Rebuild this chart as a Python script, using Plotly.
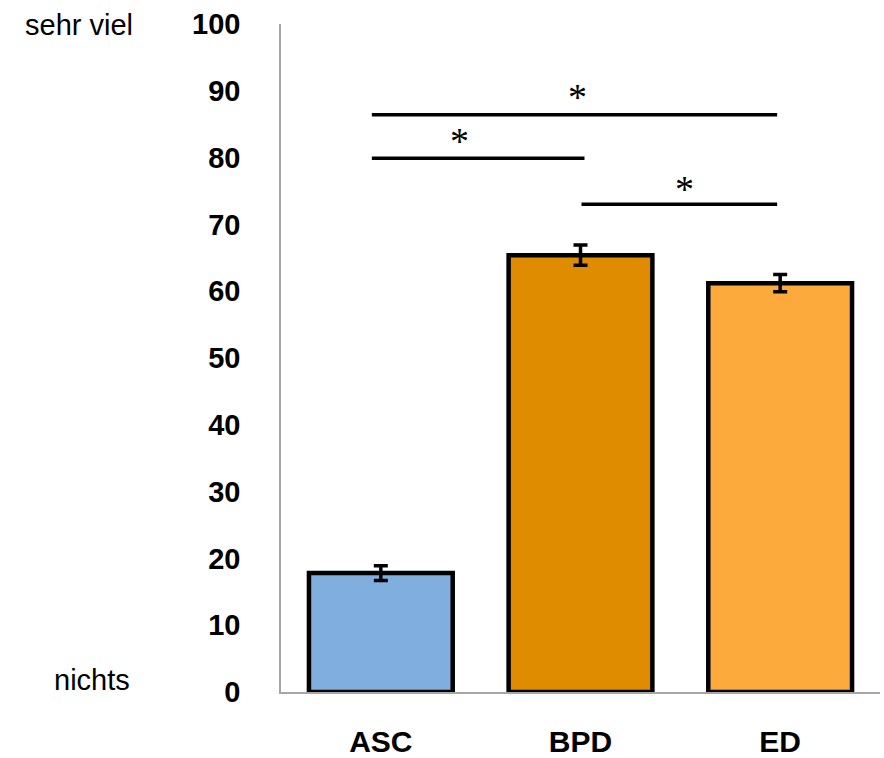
import plotly.graph_objects as go

categories = ["ASC", "BPD", "ED"]
means = [17.8, 65.4, 61.2]
errors = [1.1, 1.5, 1.3]
bar_colors = ["#7FAEDF", "#E08C00", "#FDAA3C"]
y_ticks = [0, 10, 20, 30, 40, 50, 60, 70, 80, 90, 100]

# significance comparisons: (x start, x end, y level, asterisk x, asterisk y)
sig_x0 = [-0.045, -0.045, 1.005]
sig_x1 = [1.985, 1.02, 1.985]
sig_y = [86.4, 79.9, 73.0]
star_x = [0.985, 0.395, 1.52]
star_y = [89.0, 82.5, 75.3]

x_pos = list(range(len(categories)))

fig = go.Figure()
fig.add_trace(go.Bar(
    x=x_pos, y=means,
    marker=dict(color=bar_colors, line=dict(color="black", width=4.5)),
    error_y=dict(type="data", array=errors, color="black", thickness=3.5, width=7),
    width=0.72,
))

for x0, x1, y in zip(sig_x0, sig_x1, sig_y):
    fig.add_shape(type="line", x0=x0, x1=x1, y0=y, y1=y, xref="x", yref="y",
                  line=dict(color="black", width=3.5))
for xs, ys in zip(star_x, star_y):
    fig.add_annotation(x=xs, y=ys, xref="x", yref="y", text="*", showarrow=False,
                       font=dict(family="Liberation Serif", size=38, color="black"))

fig.add_annotation(x=-0.337, y=0.998, xref="paper", yref="paper", text="sehr viel",
                   showarrow=False, xanchor="center", yanchor="middle",
                   font=dict(family="Liberation Sans", size=29, color="black"))
fig.add_annotation(x=-0.316, y=0.018, xref="paper", yref="paper", text="nichts",
                   showarrow=False, xanchor="center", yanchor="middle",
                   font=dict(family="Liberation Sans", size=29, color="black"))

fig.update_layout(
    width=884, height=758,
    margin=dict(l=281, r=4, t=24, b=66, autoexpand=False),
    plot_bgcolor="white", paper_bgcolor="white",
    showlegend=False,
    font=dict(family="Liberation Sans", color="black"),
)
fig.update_xaxes(
    range=[-0.5, 2.5], tickvals=x_pos, ticktext=[f"<b>{c}</b>" for c in categories],
    showgrid=False, zeroline=False, showline=True, linecolor="#A6A6A6", linewidth=1.5,
    tickfont=dict(family="Liberation Sans", size=30, color="black"),
    ticks="", ticklabelstandoff=22, automargin=False,
)
fig.update_yaxes(
    range=[0, 100], tickvals=y_ticks, ticktext=[f"<b>{t}</b>" for t in y_ticks],
    showgrid=False, zeroline=False, showline=True, linecolor="#A6A6A6", linewidth=1.5,
    tickfont=dict(family="Liberation Sans", size=29, color="black"),
    ticks="", ticklabelstandoff=33, automargin=False,
)

fig.write_html("out.html", config={"displayModeBar": False},
               post_script="document.body.style.margin='0';document.body.style.overflow='hidden';")
